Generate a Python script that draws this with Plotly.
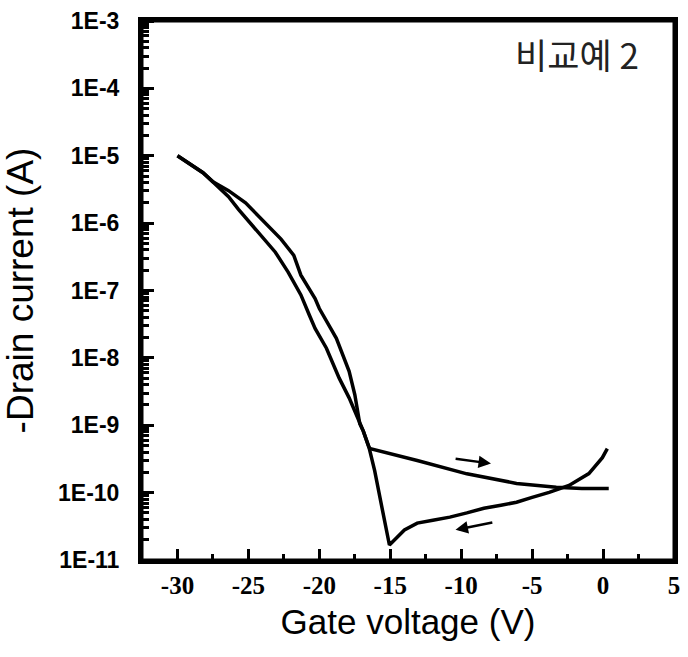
import math
import plotly.graph_objects as go

# Transfer curve, outer branch: from -30 V down to the kink, then across to 0 V
branch_a_v = [-30.0, -28.2, -27.5, -26.4, -25.2, -23.8, -22.7, -21.8, -21.3, -20.3, -20.0, -19.2, -18.8, -17.9, -17.5,
              -17.15, -16.9, -16.5, -16.4, -13.1, -9.6, -6.1, -3.3, -1.5, 0.4]
branch_a_i = [1.0e-5, 5.6e-6, 4.1e-6, 3.03e-6, 2.0e-6, 1.02e-6, 5.8e-7, 3.33e-7, 1.69e-7, 7.6e-8, 5.4e-8, 2.74e-8, 1.95e-8, 6.3e-9, 2.86e-9,
              1.05e-9, 8.2e-10, 4.7e-10, 4.5e-10, 3.0e-10, 1.9e-10, 1.37e-10, 1.2e-10, 1.15e-10, 1.15e-10]

# Transfer curve, inner branch: down to the minimum near -15 V, then rising to 0 V
branch_b_v = [-30.0, -28.2, -27.5, -26.4, -25.7, -24.5, -23.1, -22.2, -21.3, -20.7, -20.3, -19.5, -18.6, -17.9, -17.5, -16.9, -16.5,
              -16.1, -15.55, -15.06, -14.0, -13.1, -12.0, -10.8, -9.6, -8.4, -7.2, -6.1, -5.0, -3.8, -2.4, -1.0, -0.05, 0.3]
branch_b_i = [1.0e-5, 5.6e-6, 4.1e-6, 2.47e-6, 1.6e-6, 8.1e-7, 3.7e-7, 1.87e-7, 8.6e-8, 4.3e-8, 2.74e-8, 1.39e-8, 5.0e-9, 2.55e-9, 1.62e-9, 8.2e-10, 4.7e-10,
              2.12e-10, 5.5e-11, 1.67e-11, 2.79e-11, 3.53e-11, 3.9e-11, 4.33e-11, 5.0e-11, 5.87e-11, 6.5e-11, 7.2e-11, 8.5e-11, 1.01e-10, 1.28e-10, 1.92e-10, 3.3e-10, 4.5e-10]

# Sweep-direction arrows: (tail V, tail A) -> (head V, head A)
arrow_right = [(-10.5, 3.2e-10), (-7.9, 2.7e-10)]
arrow_left = [(-7.7, 3.65e-11), (-10.4, 2.8e-11)]

x_range = [-32.5, 5]
y_range = [-11, -3]
x_ticks = [-30, -25, -20, -15, -10, -5, 0, 5]
x_labels = ["%d" % v for v in x_ticks]
x_minor = [-27.5, -22.5, -17.5, -12.5, -7.5, -2.5, 2.5]
y_exps = list(range(-11, -2))
y_ticks = [10.0 ** e for e in y_exps]
y_labels = ["1E%d" % e for e in y_exps]
y_minor = [m * 10.0 ** e for e in range(-11, -3) for m in range(2, 10)]

panel_label = "비교예 2"

MAJOR_LEN, MINOR_LEN, TICK_W = 11, 6, 3

fig = go.Figure()
for vx, iy in ((branch_a_v, branch_a_i), (branch_b_v, branch_b_i)):
    fig.add_trace(go.Scatter(x=vx, y=iy, mode="lines",
                             line=dict(color="black", width=3.5),
                             showlegend=False, hoverinfo="skip"))

# carrier traces so the tick-only overlay axes are drawn
for xa, ya in (("x2", "y2"), ("x3", "y3")):
    fig.add_trace(go.Scatter(x=branch_a_v[:1], y=branch_a_i[:1], xaxis=xa, yaxis=ya,
                             mode="lines", line=dict(width=0), showlegend=False, hoverinfo="skip"))

for (tx, ty), (hx, hy) in (arrow_right, arrow_left):
    fig.add_annotation(x=hx, y=math.log10(hy), ax=tx, ay=math.log10(ty),
                       xref="x", yref="y", axref="x", ayref="y",
                       showarrow=True, arrowhead=2, arrowsize=1.0, arrowwidth=2.5,
                       arrowcolor="black", text="")

fig.add_annotation(x=0.818, y=0.94, xref="paper", yref="paper", text=panel_label,
                   xanchor="center", yanchor="middle", showarrow=False,
                   font=dict(family="Noto Sans CJK KR", size=35, color="#222"))

# heavy plot frame
fig.add_shape(type="rect", xref="paper", yref="paper", x0=0, x1=1, y0=0, y1=1,
              line=dict(color="black", width=3), fillcolor="rgba(0,0,0,0)", layer="above")

# tick-only axes sitting on the bottom/left edges, ticks facing into the plot
def x_tick_axis(vals, length):
    return dict(overlaying="x", anchor="free", position=0, side="top", range=x_range,
                tickmode="array", tickvals=vals, ticks="outside", ticklen=length,
                tickwidth=TICK_W, tickcolor="black", showticklabels=False,
                showline=False, showgrid=False, zeroline=False)


def y_tick_axis(vals, length):
    return dict(overlaying="y", anchor="free", position=0, side="right", type="log", range=y_range,
                tickmode="array", tickvals=vals, ticks="outside", ticklen=length,
                tickwidth=TICK_W, tickcolor="black", showticklabels=False,
                showline=False, showgrid=False, zeroline=False)


fig.update_layout(
    width=688, height=657,
    margin=dict(l=142, r=8, t=17, b=97),
    paper_bgcolor="white", plot_bgcolor="white",
    showlegend=False,
    xaxis=dict(
        range=x_range, tickmode="array", tickvals=x_ticks, ticktext=x_labels,
        ticks="", showline=True, linewidth=4, linecolor="black", mirror=True,
        showgrid=False, zeroline=False,
        tickfont=dict(family="Liberation Serif, serif", size=25, color="black", weight="bold"),
        title=dict(text="Gate voltage (V)", standoff=12,
                   font=dict(family="Liberation Sans", size=35, color="black")),
    ),
    yaxis=dict(
        type="log", range=y_range, tickmode="array", tickvals=y_ticks, ticktext=y_labels,
        ticks="", showline=True, linewidth=4, linecolor="black", mirror=True,
        showgrid=False, zeroline=False, ticklabelstandoff=14,
        tickfont=dict(family="Liberation Sans", size=23, color="black", weight="bold"),
        title=dict(text="-Drain current (A)", standoff=14,
                   font=dict(family="Liberation Sans", size=37, color="black")),
    ),
    xaxis2=x_tick_axis(x_ticks, MAJOR_LEN),
    xaxis3=x_tick_axis(x_minor, MINOR_LEN),
    yaxis2=y_tick_axis(y_ticks, MAJOR_LEN),
    yaxis3=y_tick_axis(y_minor, MINOR_LEN),
)

fig.write_html("out.html")
